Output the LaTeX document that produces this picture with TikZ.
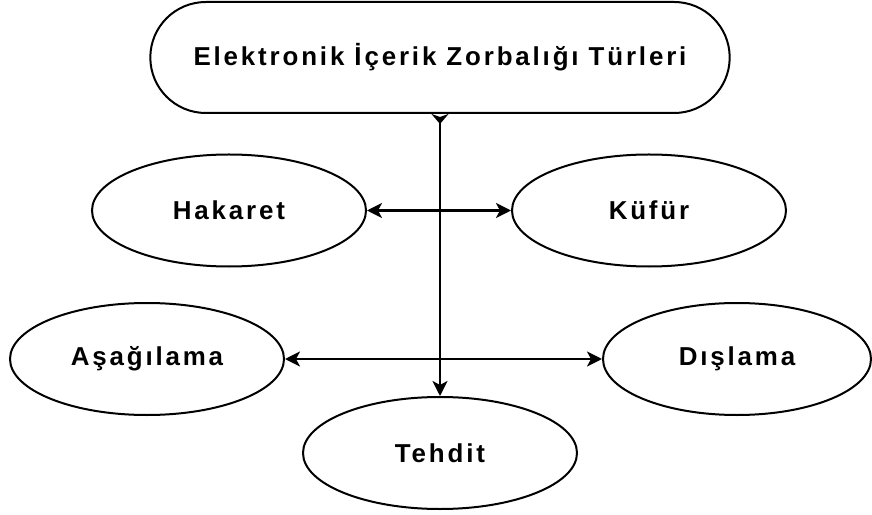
\documentclass[tikz,border=0pt]{standalone}
\usepackage{fontspec}
\newfontfamily\lblfont{Liberation Sans}[LetterSpace=11]
\usetikzlibrary{arrows.meta,shapes.misc,shapes.geometric}

\begin{document}
\begin{tikzpicture}[x=1bp,y=-1bp,
	>={Stealth[length=15bp,width=15bp,inset=4bp]},
	kind/.style={ellipse,draw,line width=2bp,minimum width=274bp,minimum height=112bp,
		font=\lblfont\bfseries\fontsize{26}{30}\selectfont},
	link/.style={line width=2.4bp}]

\useasboundingbox (0,0) rectangle (872,515);

% top
\node[rounded rectangle,draw,line width=2bp,minimum width=586bp,minimum height=111bp,
	font=\lblfont\bfseries\fontsize{26}{30}\selectfont]
	(root) at (440,57.5) {Elektronik İçerik Zorbalığı Türleri};

\node[kind] (hakaret) at (229,210.5) {Hakaret};
\node[kind] (kufur) at (649,210.5) {Küfür};
\node[kind] (asagilama) at (147,359) {Aşağılama};
\node[kind,minimum width=268bp] (dislama) at (737,359) {Dışlama};
\node[kind] (tehdit) at (440,453) {Tehdit};

\draw[link,{Stealth[length=10bp,width=17bp,inset=3bp,reversed]}->] (root.south) -- (tehdit.north);
\draw[link,<->] (hakaret.east) -- (kufur.west);
\draw[link,<->] (asagilama.east) -- (dislama.west);

\end{tikzpicture}
\end{document}
